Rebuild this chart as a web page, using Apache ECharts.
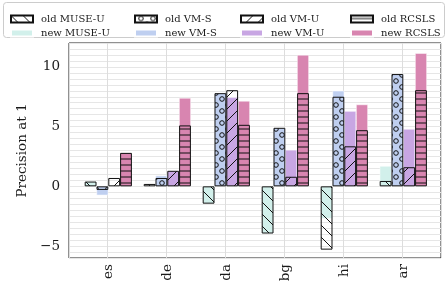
<!DOCTYPE html>
<html><head><meta charset="utf-8">
<script src="https://cdn.jsdelivr.net/npm/echarts@6/dist/echarts.min.js"></script>
<style>html,body{margin:0;padding:0;background:#fff}#c{width:447px;height:286px}</style>
</head><body><div id="c"></div>
<script>
// ---- data ----
const categories = ['es', 'de', 'da', 'bg', 'hi', 'ar'];
const oldMuseU = [0.4, 0.2, -1.45, -3.95, -5.3, 0.45];
const oldVmS   = [-0.3, 0.7, 7.8, 4.9, 7.5, 9.4];
const oldVmU   = [0.7, 1.3, 8.05, 0.8, 3.35, 1.6];
const oldRcsls = [2.8, 5.1, 5.15, 7.8, 4.7, 8.05];
const newMuseU = [0.4, 0.0, -1.45, -3.95, -2.7, 1.7];
const newVmS   = [-0.75, 0.9, 7.8, 4.9, 8.0, 9.4];
const newVmU   = [0.0, 1.3, 7.45, 3.05, 6.3, 4.8];
const newRcsls = [2.8, 7.4, 7.15, 11.0, 6.85, 11.15];
const yTickLabels = [-5, 0, 5, 10];

const FONT = 'DejaVu Serif';
const INK = '#1a1a1a';

function makePattern(kind) {
  const c = document.createElement('canvas');
  let w = 12, h = 12;
  if (kind === 'h') { w = 6; h = 6; }
  c.width = w; c.height = h;
  const g = c.getContext('2d');
  g.strokeStyle = '#111';
  g.lineWidth = 1;
  g.beginPath();
  if (kind === 'back') {
    for (const k of [-12, 0, 12]) { g.moveTo(k, 0); g.lineTo(k + 12, 12); }
  } else if (kind === 'fwd') {
    for (const k of [-12, 0, 12]) { g.moveTo(k, 12); g.lineTo(k + 12, 0); }
  } else if (kind === 'h') {
    g.moveTo(0, 3); g.lineTo(6, 3);
  } else if (kind === 'o') {
    const r = 2.3;
    g.moveTo(6 + r, 3); g.arc(6, 3, r, 0, Math.PI * 2);
    g.moveTo(0 + r, 9); g.arc(0, 9, r, 0, Math.PI * 2);
    g.moveTo(12 + r, 9); g.arc(12, 9, r, 0, Math.PI * 2);
  }
  g.stroke();
  return { image: c, repeat: 'repeat' };
}

const colors = {
  museU: '#d2f0eb',
  vmS: '#bfcff0',
  vmU: '#c8a6e3',
  rcsls: '#d885b0'
};

function newSeries(name, data, color) {
  return {
    name, type: 'bar', data, xAxisIndex: 1, yAxisIndex: 1, z: 2,
    barGap: '0%', barCategoryGap: '20%',
    itemStyle: { color, borderColor: '#ffffff', borderWidth: 0.5 },
    emphasis: { disabled: true }, silent: true
  };
}
function oldSeries(name, data, kind) {
  return {
    name, type: 'bar', data, xAxisIndex: 2, yAxisIndex: 1, z: 3,
    barGap: '0%', barCategoryGap: '20%',
    itemStyle: { color: makePattern(kind), borderColor: '#111', borderWidth: 1 },
    emphasis: { disabled: true }, silent: true
  };
}

const legendBase = {
  orient: 'vertical', top: 8, itemWidth: 22, itemHeight: 7, itemGap: 2,
  selectedMode: false, icon: 'rect',
  textStyle: { fontFamily: FONT, fontSize: 10, color: INK, lineHeight: 12, padding: [0, 0, 0, 3] }
};

const chart = echarts.init(document.getElementById('c'), null, { renderer: 'canvas' });
chart.setOption({
  animation: false,
  backgroundColor: '#fff',
  graphic: [{
    type: 'rect', left: 3, top: 2, z: -1,
    shape: { width: 441, height: 35, r: 3 },
    style: { fill: '#fff', stroke: '#cccccc', lineWidth: 1 }
  }],
  legend: [
    Object.assign({}, legendBase, { left: 5, data: ['old MUSE-U', 'new MUSE-U'] }),
    Object.assign({}, legendBase, { left: 129, data: ['old VM-S', 'new VM-S'] }),
    Object.assign({}, legendBase, { left: 235, data: ['old VM-U', 'new VM-U'] }),
    Object.assign({}, legendBase, { left: 345, data: ['old RCSLS', 'new RCSLS'] })
  ],
  grid: [
    { left: 69, right: 6, top: 43, bottom: 28, show: true, borderColor: '#222', borderWidth: 1, backgroundColor: 'transparent' },
    { left: 78.8, width: 354, top: 43, bottom: 28 }
  ],
  xAxis: [
    { gridIndex: 0, type: 'value', min: -0.6525, max: 5.6525, splitNumber: 6, minInterval: 1, maxInterval: 1,
      axisLabel: { show: false }, axisTick: { show: false }, axisLine: { show: false },
      splitLine: { show: true, lineStyle: { color: '#dddddd', width: 1 } } },
    { gridIndex: 1, type: 'category', data: categories,
      axisTick: { show: false }, axisLine: { show: false }, splitLine: { show: false },
      axisLabel: { rotate: 90, margin: 6, fontFamily: FONT, fontSize: 13.5, color: INK } },
    { gridIndex: 1, type: 'category', data: categories, show: false }
  ],
  yAxis: [
    { gridIndex: 0, type: 'value', min: -6, max: 12, interval: 0.5,
      name: 'Precision at 1', nameLocation: 'middle', nameGap: 35, nameRotate: 90,
      nameTextStyle: { fontFamily: FONT, fontSize: 13.5, color: INK },
      axisLine: { show: false }, axisTick: { show: false },
      splitLine: { show: true, lineStyle: { color: '#e6e6e6', width: 1 } },
      axisLabel: {
        margin: 9, fontFamily: FONT, fontSize: 13.5, color: INK,
        formatter: v => {
          const hit = yTickLabels.find(t => Math.abs(t - v) < 1e-9);
          if (hit === undefined) return '';
          return hit < 0 ? '\u2212' + Math.abs(hit) : String(hit);
        }
      } },
    { gridIndex: 1, type: 'value', min: -6, max: 12, show: false }
  ],
  series: [
    newSeries('new MUSE-U', newMuseU, colors.museU),
    newSeries('new VM-S', newVmS, colors.vmS),
    newSeries('new VM-U', newVmU, colors.vmU),
    newSeries('new RCSLS', newRcsls, colors.rcsls),
    oldSeries('old MUSE-U', oldMuseU, 'back'),
    oldSeries('old VM-S', oldVmS, 'o'),
    oldSeries('old VM-U', oldVmU, 'fwd'),
    oldSeries('old RCSLS', oldRcsls, 'h')
  ]
});
</script></body></html>
